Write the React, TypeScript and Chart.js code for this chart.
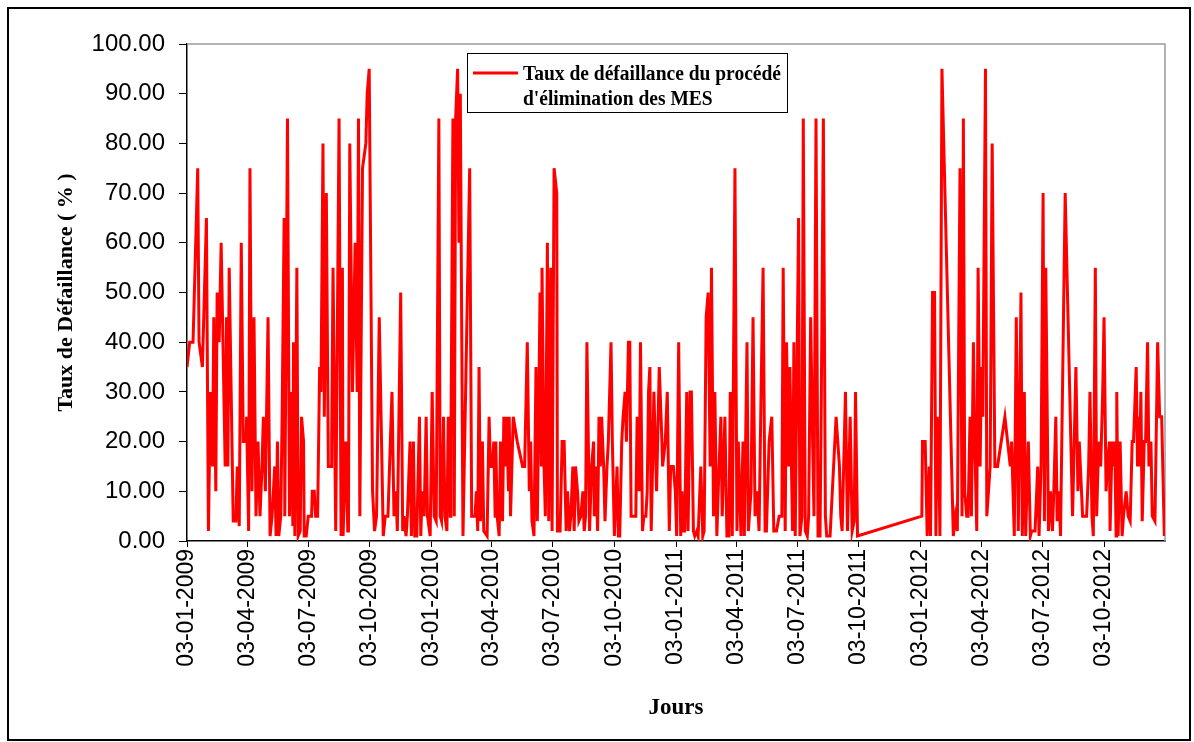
import { useEffect, useRef } from "react";
import { Chart, registerables } from "chart.js";

Chart.register(...registerables);

// Jours écoulés depuis le 03-01-2009
const jours: number[] = [
  0, 4, 9, 16, 18, 23, 29, 32, 35, 38, 40, 43, 45, 48, 51, 57, 59, 61, 63, 69,
  73, 75, 78, 81, 84, 88, 89, 92, 94, 97, 100, 103, 106, 109, 112, 114, 117, 121, 124, 127,
  131, 133, 135, 137, 140, 142, 145, 146, 150, 153, 156, 158, 159, 161, 164, 166, 169, 171, 174, 175,
  178, 181, 186, 187, 190, 192, 195, 198, 200, 203, 205, 208, 211, 215, 216, 218, 222, 227, 230, 232,
  233, 235, 237, 240, 241, 243, 247, 251, 254, 256, 258, 262, 267, 269, 272, 277, 280, 283, 287, 293,
  296, 300, 306, 309, 312, 314, 319, 322, 324, 327, 329, 333, 335, 338, 340, 343, 347, 349, 351, 354,
  357, 359, 363, 366, 369, 372, 376, 378, 380, 383, 385, 388, 390, 393, 394, 397, 399, 401, 404, 406,
  408, 412, 422, 425, 430, 432, 434, 436, 438, 441, 443, 448, 451, 453, 456, 458, 460, 461, 463, 466,
  468, 471, 473, 476, 477, 480, 481, 483, 487, 493, 501, 504, 508, 511, 513, 515, 518, 521, 523, 525,
  527, 529, 530, 533, 535, 538, 540, 543, 545, 548, 552, 553, 557, 560, 563, 566, 568, 571, 573, 576,
  578, 580, 583, 585, 588, 591, 593, 595, 597, 601, 604, 607, 608, 610, 613, 615, 617, 619, 622, 624,
  627, 629, 633, 635, 638, 642, 644, 646, 649, 651, 654, 656, 659, 661, 663, 666, 670, 672, 675, 677,
  680, 682, 685, 687, 689, 691, 693, 695, 697, 701, 705, 709, 710, 714, 717, 720, 722, 726, 729, 731,
  734, 737, 739, 741, 743, 746, 748, 751, 753, 756, 758, 761, 763, 767, 770, 772, 775, 778, 781, 783,
  786, 788, 791, 793, 797, 799, 803, 806, 809, 811, 814, 818, 821, 823, 827, 830, 832, 836, 838, 842,
  845, 848, 851, 854, 857, 860, 863, 865, 869, 873, 876, 880, 884, 888, 890, 893, 895, 898, 900, 903,
  904, 906, 908, 909, 913, 915, 918, 920, 923, 926, 928, 931, 934, 936, 939, 942, 945, 947, 950, 953,
  955, 960, 969, 974, 976, 978, 983, 986, 990, 993, 996, 998, 1001, 1097, 1098, 1102, 1105, 1108, 1110, 1113,
  1116, 1118, 1120, 1122, 1124, 1127, 1144, 1147, 1150, 1152, 1154, 1157, 1159, 1161, 1164, 1166, 1169, 1171, 1174, 1176,
  1179, 1181, 1184, 1186, 1188, 1192, 1194, 1199, 1202, 1206, 1210, 1221, 1229, 1231, 1235, 1238, 1241, 1245, 1247, 1250,
  1252, 1256, 1259, 1261, 1266, 1270, 1272, 1275, 1278, 1280, 1282, 1286, 1289, 1292, 1294, 1297, 1299, 1302, 1304, 1311,
  1322, 1327, 1330, 1332, 1337, 1343, 1346, 1348, 1351, 1353, 1356, 1358, 1361, 1364, 1367, 1369, 1372, 1374, 1377, 1378,
  1381, 1383, 1385, 1387, 1388, 1390, 1393, 1396, 1398, 1402, 1405, 1408, 1411, 1413, 1417, 1419, 1420, 1422, 1424, 1426,
  1429, 1431, 1434, 1436, 1439, 1441, 1445, 1449, 1452, 1455, 1459,
];

// Taux de défaillance (%) correspondant à chaque jour
const taux: number[] = [
  35, 40, 40, 75, 40, 35, 65, 2, 30, 15, 45, 10, 50, 40, 60, 15, 45, 15, 55, 4,
  4, 15, 3, 60, 20, 20, 25, 2, 75, 10, 45, 5, 20, 5, 15, 25, 10, 45, 1, 5,
  15, 1, 20, 1, 5, 25, 65, 5, 85, 5, 30, 3, 40, 1, 55, 1, 2, 25, 20, 1,
  1, 5, 5, 10, 10, 5, 5, 35, 30, 80, 25, 70, 15, 15, 20, 55, 2, 85, 1, 55,
  1, 10, 20, 2, 2, 80, 30, 60, 30, 85, 5, 75, 80, 90, 95, 10, 2, 5, 45, 1,
  5, 5, 30, 5, 10, 2, 50, 2, 5, 1, 5, 20, 1, 20, 1, 1, 25, 1, 10, 5,
  25, 5, 1, 30, 5, 4, 85, 5, 4, 25, 5, 2, 25, 5, 20, 85, 5, 85, 95, 60,
  90, 1, 75, 5, 5, 10, 2, 35, 4, 20, 2, 1, 25, 15, 15, 20, 5, 20, 5, 1,
  20, 4, 25, 15, 25, 10, 25, 5, 25, 20, 15, 15, 40, 10, 20, 4, 1, 35, 4, 25,
  50, 15, 55, 15, 5, 60, 4, 55, 2, 75, 70, 2, 2, 20, 20, 2, 10, 2, 5, 15,
  2, 15, 10, 4, 5, 10, 2, 5, 40, 2, 15, 20, 5, 15, 2, 25, 15, 25, 15, 4,
  15, 20, 40, 20, 1, 15, 1, 1, 20, 25, 30, 20, 40, 40, 5, 5, 5, 25, 10, 40,
  2, 5, 5, 10, 30, 35, 2, 15, 30, 10, 35, 20, 15, 20, 30, 2, 15, 15, 10, 1,
  40, 1, 10, 2, 2, 30, 2, 30, 30, 2, 1, 2, 1, 15, 1, 2, 45, 50, 15, 55,
  5, 30, 1, 10, 25, 5, 25, 1, 1, 30, 1, 75, 2, 20, 1, 20, 1, 40, 2, 10,
  45, 5, 10, 2, 30, 55, 2, 2, 20, 25, 2, 2, 5, 5, 55, 2, 40, 15, 35, 10,
  2, 40, 1, 1, 65, 1, 5, 85, 2, 1, 5, 45, 20, 5, 85, 1, 1, 30, 85, 5,
  1, 1, 25, 15, 5, 2, 30, 2, 25, 2, 4, 30, 1, 5, 20, 20, 1, 15, 1, 50,
  50, 1, 25, 20, 1, 95, 1, 5, 2, 40, 75, 5, 85, 10, 5, 5, 25, 5, 40, 20,
  2, 55, 15, 35, 25, 95, 5, 15, 80, 15, 15, 25, 15, 20, 1, 45, 2, 50, 1, 30,
  1, 20, 1, 2, 2, 15, 1, 15, 70, 4, 55, 2, 10, 2, 10, 25, 4, 10, 1, 70,
  5, 35, 10, 20, 5, 5, 15, 30, 5, 1, 55, 5, 20, 15, 30, 45, 10, 15, 20, 2,
  20, 15, 20, 1, 30, 1, 20, 1, 5, 10, 5, 4, 20, 20, 35, 15, 25, 15, 30, 4,
  20, 20, 40, 15, 20, 5, 4, 40, 25, 25, 1,
];

// Graduations trimestrielles de l'axe des jours
const tickJours: number[] = [0, 90, 181, 273, 365, 455, 546, 638, 730, 820, 911, 1003, 1095, 1186, 1277, 1369];
const tickLabels: string[] = [
  "03-01-2009", "03-04-2009", "03-07-2009", "03-10-2009",
  "03-01-2010", "03-04-2010", "03-07-2010", "03-10-2010",
  "03-01-2011", "03-04-2011", "03-07-2011", "03-10-2011",
  "03-01-2012", "03-04-2012", "03-07-2012", "03-10-2012",
];

const serieLabel = ["Taux de défaillance du procédé", "d'élimination des MES"];
const titreY = "Taux de Défaillance ( % )";
const titreX = "Jours";

const W = 1194;
const H = 742;
const SERIF = "'Liberation Serif', 'Times New Roman', serif";
const SANS = "'Liberation Sans', Arial, sans-serif";

const decor = {
  id: "decor",
  beforeDraw(chart: any) {
    const { ctx } = chart;
    ctx.save();
    ctx.fillStyle = "#ffffff";
    ctx.fillRect(0, 0, W, H);
    ctx.strokeStyle = "#000000";
    ctx.lineWidth = 2;
    ctx.strokeRect(8, 8, 1182, 732);
    ctx.restore();
  },
  beforeDatasetsDraw(chart: any) {
    const { ctx, chartArea: a } = chart;
    ctx.save();
    ctx.strokeStyle = "#9a9a9a";
    ctx.lineWidth = 1.5;
    ctx.beginPath();
    ctx.moveTo(a.left, a.top);
    ctx.lineTo(a.right, a.top);
    ctx.lineTo(a.right, a.bottom);
    ctx.stroke();
    ctx.restore();
  },
  afterDraw(chart: any) {
    const { ctx, chartArea: a } = chart;
    ctx.save();
    ctx.fillStyle = "#000000";
    // titre de l'axe vertical
    ctx.translate(66, (a.top + a.bottom) / 2);
    ctx.rotate(-Math.PI / 2);
    ctx.font = `bold 22px ${SERIF}`;
    ctx.textAlign = "center";
    ctx.textBaseline = "middle";
    ctx.fillText(titreY, 0, 0);
    ctx.restore();

    ctx.save();
    ctx.fillStyle = "#000000";
    ctx.font = `bold 23px ${SERIF}`;
    ctx.textAlign = "center";
    ctx.textBaseline = "middle";
    ctx.fillText(titreX, (a.left + a.right) / 2, 708);
    ctx.restore();

    // légende
    ctx.save();
    ctx.fillStyle = "#ffffff";
    ctx.fillRect(467.5, 53.5, 320, 59);
    ctx.strokeStyle = "#000000";
    ctx.lineWidth = 1;
    ctx.strokeRect(467.5, 53.5, 320, 59);
    ctx.strokeStyle = "#ff0000";
    ctx.lineWidth = 3;
    ctx.beginPath();
    ctx.moveTo(473, 73);
    ctx.lineTo(518, 73);
    ctx.stroke();
    ctx.fillStyle = "#000000";
    ctx.font = `bold 20px ${SERIF}`;
    ctx.textAlign = "left";
    ctx.textBaseline = "alphabetic";
    const target = 258;
    const w = ctx.measureText(serieLabel[0]).width;
    const sx = Math.min(1, target / w);
    ctx.translate(523, 0);
    ctx.scale(sx, 1);
    ctx.fillText(serieLabel[0], 0, 80);
    ctx.fillText(serieLabel[1], 0, 105);
    ctx.restore();
  },
};

export default function App() {
  const ref = useRef<HTMLCanvasElement>(null);

  useEffect(() => {
    const canvas = ref.current;
    if (!canvas) return;
    const chart = new Chart(canvas, {
      type: "line",
      data: {
        datasets: [
          {
            label: serieLabel.join(" "),
            data: jours.map((j, i) => ({ x: j, y: taux[i] })),
            borderColor: "#ff0000",
            backgroundColor: "#ff0000",
            borderWidth: 3,
            pointRadius: 0,
            tension: 0,
            fill: false,
            borderJoinStyle: "miter",
          },
        ],
      },
      options: {
        animation: false,
        responsive: false,
        devicePixelRatio: 1,
        layout: { padding: { top: 44, right: 29, left: 0, bottom: 0 } },
        plugins: {
          legend: { display: false },
          tooltip: { enabled: false },
        },
        scales: {
          x: {
            type: "linear",
            min: 0,
            max: 1460,
            afterBuildTicks: (s: any) => {
              s.ticks = tickJours.map((v) => ({ value: v }));
            },
            afterFit: (s: any) => {
              s.height = H - 541;
            },
            ticks: {
              autoSkip: false,
              maxRotation: 90,
              minRotation: 90,
              padding: 2,
              color: "#000000",
              font: { family: SANS, size: 23 },
              callback: (v: any) => {
                const k = tickJours.indexOf(Number(v));
                return k >= 0 ? tickLabels[k] : "";
              },
            },
            grid: { drawOnChartArea: false, tickLength: 6, color: "#000000", lineWidth: 1 },
            border: { color: "#000000", width: 1.5 },
          },
          y: {
            min: 0,
            max: 100,
            afterFit: (s: any) => {
              s.width = 187;
            },
            ticks: {
              stepSize: 10,
              padding: 14,
              color: "#000000",
              font: { family: SANS, size: 24 },
              callback: (v: any) => Number(v).toFixed(2),
            },
            grid: { drawOnChartArea: false, tickLength: 8, color: "#000000", lineWidth: 1 },
            border: { color: "#000000", width: 1.5 },
          },
        },
      },
      plugins: [decor],
    });
    return () => chart.destroy();
  }, []);

  return (
    <canvas
      ref={ref}
      width={W}
      height={H}
      style={{ position: "absolute", left: 0, top: 0, width: W, height: H, display: "block" }}
    />
  );
}
